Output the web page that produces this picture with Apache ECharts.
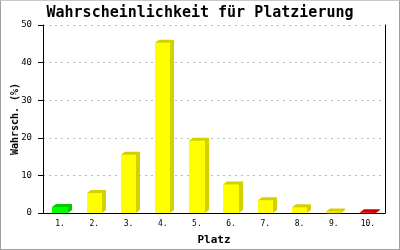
<!DOCTYPE html>
<html><head><meta charset="utf-8">
<script src="https://cdn.jsdelivr.net/npm/echarts@6/dist/echarts.min.js"></script>
<style>
html,body{margin:0;padding:0;background:#fff;}
#c{width:400px;height:250px;box-sizing:border-box;border:1px solid #a0a0a0;border-top:1px solid #c8c8c8;}
</style></head>
<body><div id="c"></div>
<script>
var categories = ['1.','2.','3.','4.','5.','6.','7.','8.','9.','10.'];
var redValues    = [0, 0, 0, 0, 0, 0, 0, 0, 0.1, 0.2];
var yellowValues = [0, 5.3, 15.5, 45.3, 19.2, 7.6, 3.4, 1.5, 0.3, 0];
var greenValues  = [1.6, 0, 0, 0, 0, 0, 0, 0, 0, 0];
var yTicks = [0, 10, 20, 30, 40, 50];

var colors = {red:['#ff0000','#cc0000'], yellow:['#ffff00','#d2d200'], green:['#00ff00','#00cc00']};
var data = categories.map(function(c,i){ return [i, redValues[i], yellowValues[i], greenValues[i]]; });

var chart = echarts.init(document.getElementById('c'), null, {renderer:'canvas'});
var mono = 'DejaVu Sans Mono';
chart.setOption({
  animation:false,
  title:{text:'Wahrscheinlichkeit für Platzierung', left:'center', top:0,
    textStyle:{fontFamily:mono, fontSize:15, fontWeight:'bold', color:'#000'}},
  grid:{left:42, right:14, top:24, bottom:36, outerBoundsMode:'none', containLabel:false},
  xAxis:{type:'category', data:categories, boundaryGap:true,
    name:'Platz', nameLocation:'middle', nameGap:22,
    nameTextStyle:{fontFamily:mono, fontSize:11, fontWeight:'bold', color:'#000'},
    axisLine:{lineStyle:{color:'#000', width:1}}, axisTick:{show:false},
    axisLabel:{fontFamily:mono, fontSize:8, color:'#000', margin:7}},
  yAxis:[{type:'value', min:yTicks[0], max:yTicks[yTicks.length-1], interval:10,
    name:'Wahrsch. (%)', nameLocation:'middle', nameGap:23, nameMoveOverlap:false,
    nameTextStyle:{fontFamily:mono, fontSize:10, fontWeight:'bold', color:'#000'},
    axisLine:{show:true, lineStyle:{color:'#000', width:1}},
    axisTick:{show:true, length:5, lineStyle:{color:'#000'}},
    axisLabel:{fontFamily:mono, fontSize:9, color:'#000', margin:11},
    splitLine:{show:true, lineStyle:{color:'#bbbbbb', type:[2,4], width:1}}},
   {type:'value', min:0, max:50, interval:10, position:'right',
    axisLine:{show:true, lineStyle:{color:'#000'}}, axisTick:{show:false},
    axisLabel:{show:false}, splitLine:{show:false}}],
  series:[{type:'custom', data:data, clip:false,
    encode:{x:0, y:[1,2,3]},
    renderItem:function(params, api){
      var idx = api.value(0);
      var r = api.value(1), y = api.value(2), g = api.value(3);
      var segs = [[r,'red'],[y,'yellow'],[g,'green']];
      var w = api.size([1,0])[0]*0.45;
      var base = api.coord([idx, 0]);
      var x0 = Math.round(base[0]-w/2), x1 = Math.round(base[0]+w/2);
      var yb = base[1];
      var total = r+y+g;
      var top = api.coord([idx,total])[1];
      var topColor = 'yellow';
      segs.forEach(function(s){ if(s[0]>0) topColor = s[1]; });
      var dx = 4, dy = 3;
      var children = [];
      children.push({type:'polygon', shape:{points:[[x0,top],[x0+dx,top-dy],[x1+dx,top-dy],[x1+dx,yb-dy],[x1,yb]]},
        style:{fill:colors[topColor][1]}});
      var acc = 0;
      segs.forEach(function(s){
        if(s[0]<=0) return;
        var a = api.coord([idx,acc])[1], b = api.coord([idx,acc+s[0]])[1];
        children.push({type:'rect', shape:{x:x0, y:b, width:x1-x0, height:Math.max(a-b,1)},
          style:{fill:colors[s[1]][0]}});
        acc += s[0];
      });
      return {type:'group', children:children};
    }}]
});
</script></body></html>
